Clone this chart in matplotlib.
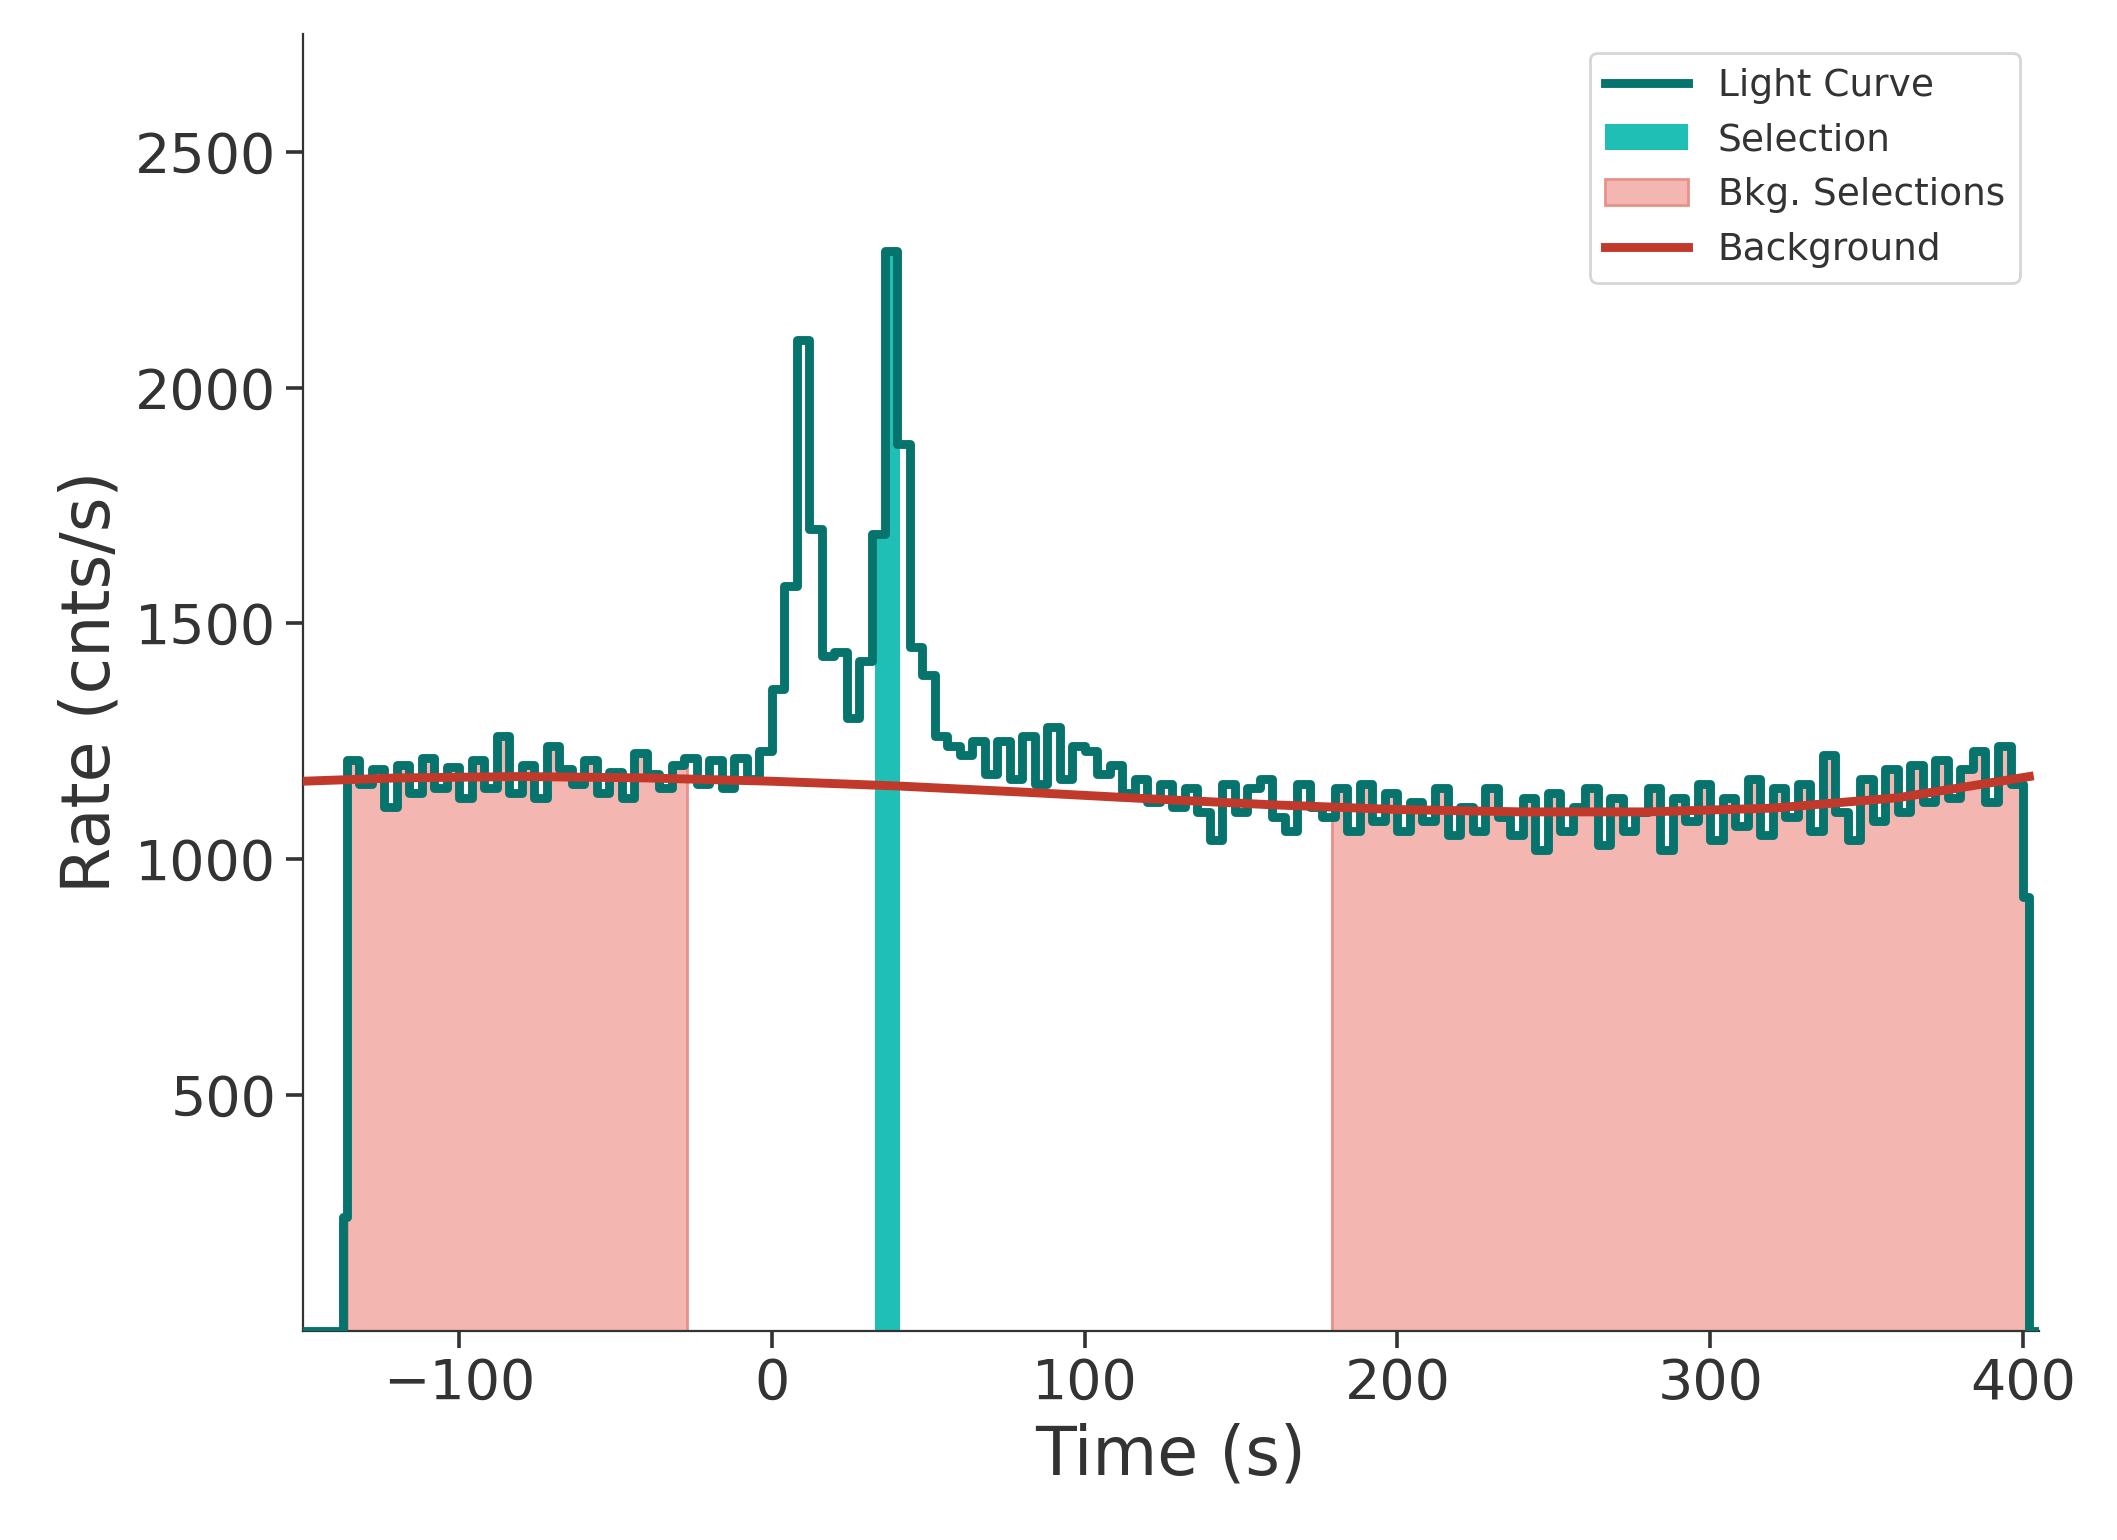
import numpy as np
import matplotlib.pyplot as plt

# light curve: bin start times (s) and rates (cnts/s)
t_start = [-150, -137] + list(range(-136, 400, 4)) + [400, 402, 406]
rate = [0, 240,
    1210, 1160, 1190, 1110, 1200, 1140, 1215, 1150, 1195, 1130, 1210, 1150, 1260, 1140, 1200, 1130,
    1240, 1190, 1160, 1210, 1140, 1185, 1130, 1225, 1180, 1150, 1200, 1215, 1160, 1210, 1150, 1215,
    1170, 1230, 1360, 1580, 2100, 1700, 1430, 1440, 1300, 1420, 1690, 2290, 1880, 1450, 1390, 1260,
    1240, 1220, 1250, 1180, 1250, 1170, 1260, 1160, 1280, 1170, 1240, 1230, 1180, 1200, 1140, 1170,
    1120, 1160, 1110, 1150, 1100, 1040, 1160, 1100, 1150, 1170, 1090, 1060, 1160, 1110, 1090, 1150,
    1060, 1160, 1080, 1140, 1060, 1120, 1080, 1150, 1050, 1110, 1060, 1150, 1090, 1050, 1130, 1020,
    1140, 1060, 1110, 1150, 1030, 1130, 1060, 1100, 1150, 1020, 1130, 1080, 1160, 1040, 1130, 1070,
    1170, 1050, 1150, 1090, 1160, 1060, 1220, 1100, 1040, 1170, 1080, 1190, 1100, 1200, 1120, 1210,
    1130, 1190, 1230, 1120, 1240, 1160, 920, 0, 0]

# background model samples
bkg_t = [-150, -120, -80, -40, 0, 40, 80, 120, 160, 200, 240, 280, 320, 360, 402]
bkg_r = [1165, 1172, 1175, 1172, 1165, 1155, 1142, 1128, 1115, 1105, 1100, 1100, 1108, 1130, 1175]

sel = (33, 41)
bkg_sel = [(-136, -27), (179, 401)]

n = min(len(t_start), len(rate))
t = np.array(t_start[:n], float)
r = np.array(rate[:n], float)

dark = "#333333"
plt.rcParams.update({"text.color": dark, "axes.labelcolor": dark,
                     "xtick.color": dark, "ytick.color": dark, "axes.edgecolor": dark})

fig = plt.figure(figsize=(10.585, 7.7), dpi=200)
ax = fig.add_axes([0.143, 0.136, 0.82, 0.842])

for a, b in bkg_sel:
    m = (t >= a - 4) & (t < b)
    tt = np.clip(t[m], a, b)
    tt = np.append(tt, b)
    rr = np.append(r[m], r[m][-1])
    ax.fill_between(tt, 0, rr, step="post", color="#f4b6b0", edgecolor="#e8908a",
                    linewidth=1, label="Bkg. Selections" if a < 0 else None, zorder=1)
m = (t >= sel[0] - 4) & (t <= sel[1])
tt = np.append(np.clip(t[m], *sel), sel[1])
rr = np.append(r[m], r[m][-1])
ax.fill_between(tt, 0, rr, step="post", color="#20bfb5", linewidth=0, label="Selection", zorder=2)

ax.step(t, r, where="post", color="#07736d", linewidth=3.2, label="Light Curve", zorder=3)
ax.plot(bkg_t, bkg_r, color="#c0392b", linewidth=3.2, label="Background", zorder=4)

ax.set_xlim(-150, 405)
ax.set_ylim(0, 2750)
ax.set_yticks([500, 1000, 1500, 2000, 2500])
ax.set_xticks([-100, 0, 100, 200, 300, 400])
ax.tick_params(labelsize=20, width=1.3, length=6)
ax.set_xlabel("Time (s)", fontsize=24)
ax.set_ylabel("Rate (cnts/s)", fontsize=24)
ax.spines["top"].set_visible(False)
ax.spines["right"].set_visible(False)

h, l = ax.get_legend_handles_labels()
order = [l.index(x) for x in ["Light Curve", "Selection", "Bkg. Selections", "Background"]]
ax.legend([h[i] for i in order], [l[i] for i in order], loc="upper right", fontsize=13.5,
          handlelength=2.2)

fig.savefig("out.png", dpi=200)
